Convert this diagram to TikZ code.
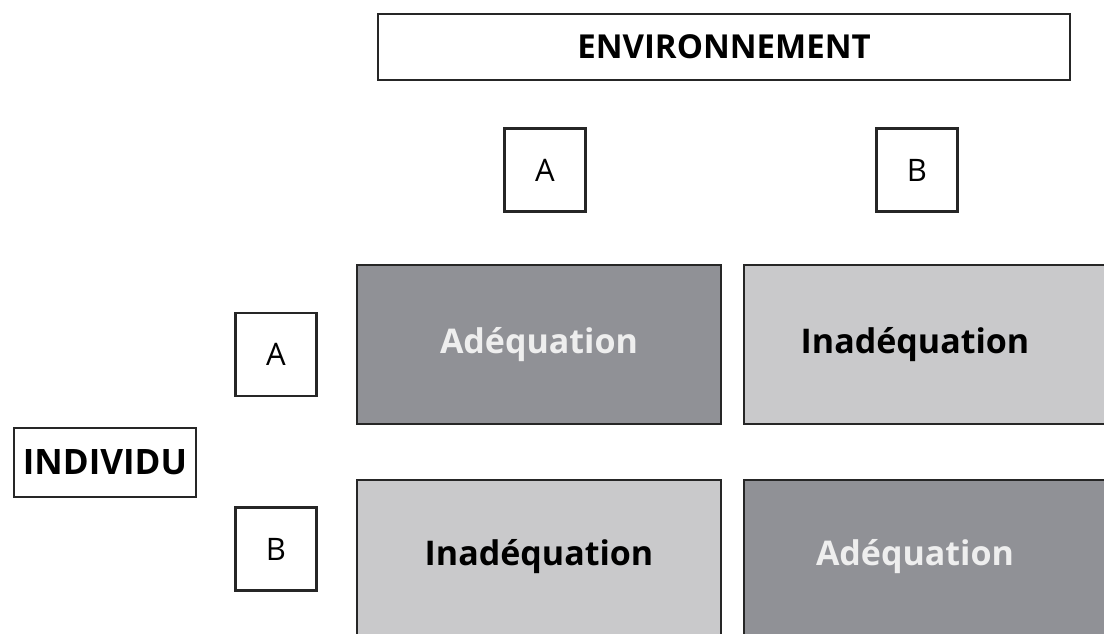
\documentclass[tikz,border=0pt]{standalone}
\usepackage{fontspec}
\setmainfont{Open Sans}
\definecolor{darkcell}{HTML}{909196}
\definecolor{lightcell}{HTML}{C9C9CB}
\definecolor{paletext}{HTML}{EEEEEE}

\begin{document}
\begin{tikzpicture}[x=1pt,y=-1pt]
\tikzset{frame/.style={draw=black!85,line width=2.6pt,rectangle,inner sep=0pt}}
\tikzset{label/.style={frame,fill=white,font=\fontsize{33}{35}\selectfont\bfseries}}
\tikzset{letter/.style={frame,fill=white,font=\fontsize{31}{33}\selectfont,minimum width=81pt,minimum height=83pt}}
\tikzset{cell/.style={frame,minimum width=364pt,minimum height=159pt,font=\fontsize{34}{36}\selectfont\bfseries}}
\tikzset{fit cell/.style={cell,fill=darkcell,text=paletext}}
\tikzset{misfit cell/.style={cell,fill=lightcell,text=black}}
\useasboundingbox (0,0) rectangle (1104,634);
\clip (0,0) rectangle (1104,634);
% top header
\node[label,minimum width=692pt,minimum height=66pt] (env) at (724,47) {ENVIRONNEMENT};
\node[letter] (envA) at (545,170) {A};
\node[letter] (envB) at (917,170) {B};
% left header
\node[label,minimum width=182pt,minimum height=69pt,font=\fontsize{35}{37}\selectfont\bfseries] (ind) at (105,462.5) {INDIVIDU};
\node[letter] (indA) at (276,354.5) {A};
\node[letter] (indB) at (276,549) {B};
% matrix
\node[fit cell] (AA) at (539,344.5) {Adéquation};
\node[misfit cell,minimum width=366pt] (AB) at (927,344.5) {\hspace*{-24pt}Inadéquation};
\node[misfit cell,minimum height=160pt] (BA) at (539,560) {\raisebox{16pt}{Inadéquation}};
\node[fit cell,minimum width=366pt,minimum height=160pt] (BB) at (927,560) {\hspace*{-24pt}\raisebox{16pt}{Adéquation}};
\end{tikzpicture}
\end{document}
